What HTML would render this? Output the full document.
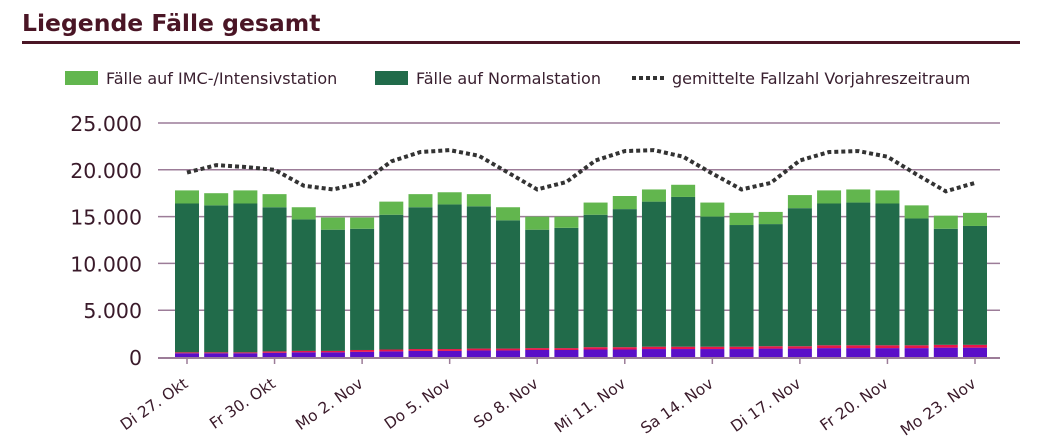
<!DOCTYPE html>
<html><head><meta charset="utf-8">
<style>
body{margin:0;background:#fff;width:1040px;height:444px;overflow:hidden;font-family:"DejaVu Sans","Liberation Sans",sans-serif;}
</style></head>
<body>
<svg id="c" width="1040" height="444" xmlns="http://www.w3.org/2000/svg" font-family="DejaVu Sans, Liberation Sans, sans-serif">
<text x="22" y="31" font-size="23.5" font-weight="bold" fill="#4a1525">Liegende Fälle gesamt</text>
<rect x="22" y="41" width="998" height="3" fill="#4a1525"/>
<g>
<g><rect x="65" y="71" width="33" height="14" fill="#62b64e"/><text x="106" y="84" font-size="16" fill="#3a2030">Fälle auf IMC-/Intensivstation</text></g>
<g><rect x="375" y="71" width="33" height="14" fill="#216b4a"/><text x="416" y="84" font-size="16" fill="#3a2030">Fälle auf Normalstation</text></g>
<g><line x1="632" y1="78" x2="664" y2="78" stroke="#333" stroke-width="4" stroke-dasharray="4,3"/><text x="672" y="84" font-size="16" fill="#3a2030">gemittelte Fallzahl Vorjahreszeitraum</text></g>
</g>
<g id="grid"></g><g id="bars"></g><g id="line"></g><g id="axes"></g>
</svg>
<script>
const categories=["Di 27. Okt","Mi 28. Okt","Do 29. Okt","Fr 30. Okt","Sa 31. Okt","So 1. Nov","Mo 2. Nov","Di 3. Nov","Mi 4. Nov","Do 5. Nov","Fr 6. Nov","Sa 7. Nov","So 8. Nov","Mo 9. Nov","Di 10. Nov","Mi 11. Nov","Do 12. Nov","Fr 13. Nov","Sa 14. Nov","So 15. Nov","Mo 16. Nov","Di 17. Nov","Mi 18. Nov","Do 19. Nov","Fr 20. Nov","Sa 21. Nov","So 22. Nov","Mo 23. Nov"];
const purpleVals=[400,400,400,450,500,500,550,600,650,650,700,700,750,750,800,800,850,850,850,850,900,900,950,950,950,950,1000,1000];
const redVals=[100,100,100,150,150,150,200,200,200,200,200,200,200,200,250,250,250,250,250,250,250,250,300,300,300,300,300,300];
const normalVals=[15900,15700,15900,15400,14050,12950,12950,14400,15150,15450,15200,13700,12650,12850,14150,14750,15500,16000,13900,13000,13050,14750,15150,15250,15150,13550,12400,12700];
const imcVals=[1400,1300,1400,1400,1300,1300,1200,1400,1400,1300,1300,1400,1400,1200,1300,1400,1300,1300,1500,1300,1300,1400,1400,1400,1400,1400,1400,1400];
const vorjahrVals=[19700,20500,20300,20000,18300,17900,18600,20900,21900,22100,21500,19700,17900,18700,21000,22000,22100,21400,19600,17900,18600,21000,21900,22000,21400,19500,17700,18600];
const yTicks=[0,5000,10000,15000,20000,25000];
const yTickLabels=["0","5.000","10.000","15.000","20.000","25.000"];
const xLabelIdx=[0,3,6,9,12,15,18,21,24,27];

const NS="http://www.w3.org/2000/svg";
const y=v=>357-v*234/25000;
const x=i=>187+i*(975-187)/27;
function mk(tag,attrs,parent){const e=document.createElementNS(NS,tag);for(const k in attrs)e.setAttribute(k,attrs[k]);document.getElementById(parent).appendChild(e);return e;}
yTicks.forEach((t,k)=>{
  if(t>0){const g=mk('line',{x1:158,x2:1000,y1:y(t),y2:y(t),stroke:'#9c7c98','stroke-width':1.5},'grid');
  
  }
  const tx=mk('text',{x:142,y:y(t)+8,'text-anchor':'end','font-size':20.5,fill:'#3a1a2a'},'axes');tx.textContent=yTickLabels[k];
  
  
});
const bw=24;
categories.forEach((c,i)=>{
  let base=0;
  [[purpleVals,'#5a0fc8','bar-purple'],[redVals,'#e8174a','bar-red'],[normalVals,'#216b4a','bar-normal'],[imcVals,'#62b64e','bar-imc']].forEach(([arr,col,nm])=>{
    const v=arr[i];
    const r=mk('rect',{x:x(i)-bw/2,y:y(base+v),width:bw,height:y(base)-y(base+v),fill:col},'bars');
    
    
    base+=v;
  });
});
const pts=vorjahrVals.map((v,i)=>x(i)+','+y(v)).join(' ');
const pl=mk('polyline',{points:pts,fill:'none',stroke:'#333','stroke-width':4,'stroke-dasharray':'4,3'},'line');


const ax=mk('line',{x1:158,x2:1000,y1:358,y2:358,stroke:'#9c7c98','stroke-width':2},'axes');


xLabelIdx.forEach(i=>{
  const tk=mk('line',{x1:x(i),x2:x(i),y1:358,y2:364,stroke:'#9c7c98','stroke-width':1.5},'axes');
  
  
  const ax0=x(i)+2, ay0=386;
  const t=mk('text',{x:ax0,y:ay0,'text-anchor':'end','font-size':15.5,fill:'#3a1a2a',transform:`rotate(-35 ${ax0} ${ay0})`},'axes');
  t.textContent=categories[i];
  
  
});
</script>
</body></html>
